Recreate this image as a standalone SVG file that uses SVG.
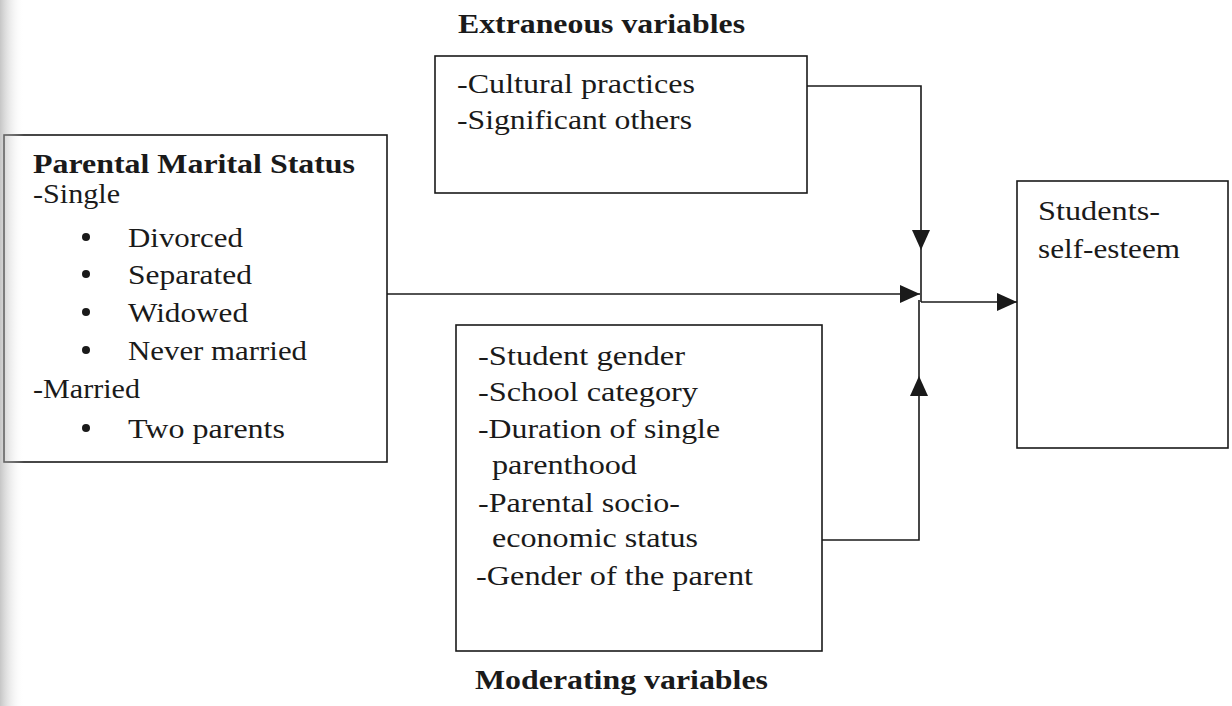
<svg xmlns="http://www.w3.org/2000/svg" width="1232" height="706" viewBox="0 0 1232 706">
<style>
.box{fill:#fff;stroke:#1a1a1a;stroke-width:1.6}
.t{font-family:"Liberation Serif","Times New Roman",serif;font-size:28px;fill:#1a1a1a}
.b{font-family:"Liberation Serif","Times New Roman",serif;font-size:28px;font-weight:bold;fill:#1a1a1a}
.c{fill:none;stroke:#1a1a1a;stroke-width:1.6}
</style>
<defs>
<marker id="arr" markerUnits="userSpaceOnUse" markerWidth="20" markerHeight="18" refX="20" refY="9" orient="auto" viewBox="0 0 20 18">
<path d="M0,0 L20,9 L0,18 z" fill="#1a1a1a"/>
</marker>
<linearGradient id="shade" x1="0" y1="0" x2="1" y2="0">
<stop offset="0" stop-color="#a0a0a0" stop-opacity="0.6"/>
<stop offset="1" stop-color="#ffffff" stop-opacity="0"/>
</linearGradient>
</defs>
<rect width="1232" height="706" fill="#fff"/>

<g id="connectors">
<path class="c" d="M807,86 H921 V250" marker-end="url(#arr)"/>
<path class="c" d="M921,250 V302"/>
<path class="c" d="M822,540 H919 V376" marker-end="url(#arr)"/>
<path class="c" d="M919,376 V300"/>
<path class="c" d="M387,294 H920" marker-end="url(#arr)"/>
<path class="c" d="M921,302 H1017" marker-end="url(#arr)"/>
</g>

<g id="parental">
<rect class="box" x="4" y="135" width="383" height="327"/>
<text class="b" x="33" y="173" textLength="322" lengthAdjust="spacingAndGlyphs">Parental Marital Status</text>
<text class="t" x="33" y="203" textLength="87" lengthAdjust="spacingAndGlyphs">-Single</text>
<circle cx="86" cy="237" r="4" fill="#1a1a1a"/>
<text class="t" x="128" y="247" textLength="115" lengthAdjust="spacingAndGlyphs">Divorced</text>
<circle cx="86" cy="274" r="4" fill="#1a1a1a"/>
<text class="t" x="128" y="284" textLength="124" lengthAdjust="spacingAndGlyphs">Separated</text>
<circle cx="86" cy="312" r="4" fill="#1a1a1a"/>
<text class="t" x="128" y="322" textLength="120" lengthAdjust="spacingAndGlyphs">Widowed</text>
<circle cx="86" cy="350" r="4" fill="#1a1a1a"/>
<text class="t" x="128" y="360" textLength="179" lengthAdjust="spacingAndGlyphs">Never married</text>
<text class="t" x="33" y="398" textLength="107" lengthAdjust="spacingAndGlyphs">-Married</text>
<circle cx="86" cy="428" r="4" fill="#1a1a1a"/>
<text class="t" x="128" y="438" textLength="157" lengthAdjust="spacingAndGlyphs">Two parents</text>
</g>

<g id="extraneous">
<text class="b" x="458" y="33" textLength="287" lengthAdjust="spacingAndGlyphs">Extraneous variables</text>
<rect class="box" x="435" y="56" width="372" height="137"/>
<text class="t" x="457" y="93" textLength="238" lengthAdjust="spacingAndGlyphs">-Cultural practices</text>
<text class="t" x="457" y="129" textLength="235" lengthAdjust="spacingAndGlyphs">-Significant others</text>
</g>

<g id="moderating">
<rect class="box" x="456" y="325" width="366" height="326"/>
<text class="t" x="478" y="365" textLength="207" lengthAdjust="spacingAndGlyphs">-Student gender</text>
<text class="t" x="478" y="401" textLength="220" lengthAdjust="spacingAndGlyphs">-School category</text>
<text class="t" x="478" y="438" textLength="242" lengthAdjust="spacingAndGlyphs">-Duration of single</text>
<text class="t" x="492" y="474" textLength="145" lengthAdjust="spacingAndGlyphs">parenthood</text>
<text class="t" x="478" y="512" textLength="202" lengthAdjust="spacingAndGlyphs">-Parental socio-</text>
<text class="t" x="492" y="547" textLength="206" lengthAdjust="spacingAndGlyphs">economic status</text>
<text class="t" x="476" y="585" textLength="277" lengthAdjust="spacingAndGlyphs">-Gender of the parent</text>
<text class="b" x="475" y="689" textLength="293" lengthAdjust="spacingAndGlyphs">Moderating variables</text>
</g>

<g id="students">
<rect class="box" x="1017" y="181" width="211" height="267"/>
<text class="t" x="1038" y="220" textLength="122" lengthAdjust="spacingAndGlyphs">Students-</text>
<text class="t" x="1038" y="258" textLength="142" lengthAdjust="spacingAndGlyphs">self-esteem</text>
</g>

<rect x="0" y="0" width="24" height="706" fill="url(#shade)"/>
</svg>
